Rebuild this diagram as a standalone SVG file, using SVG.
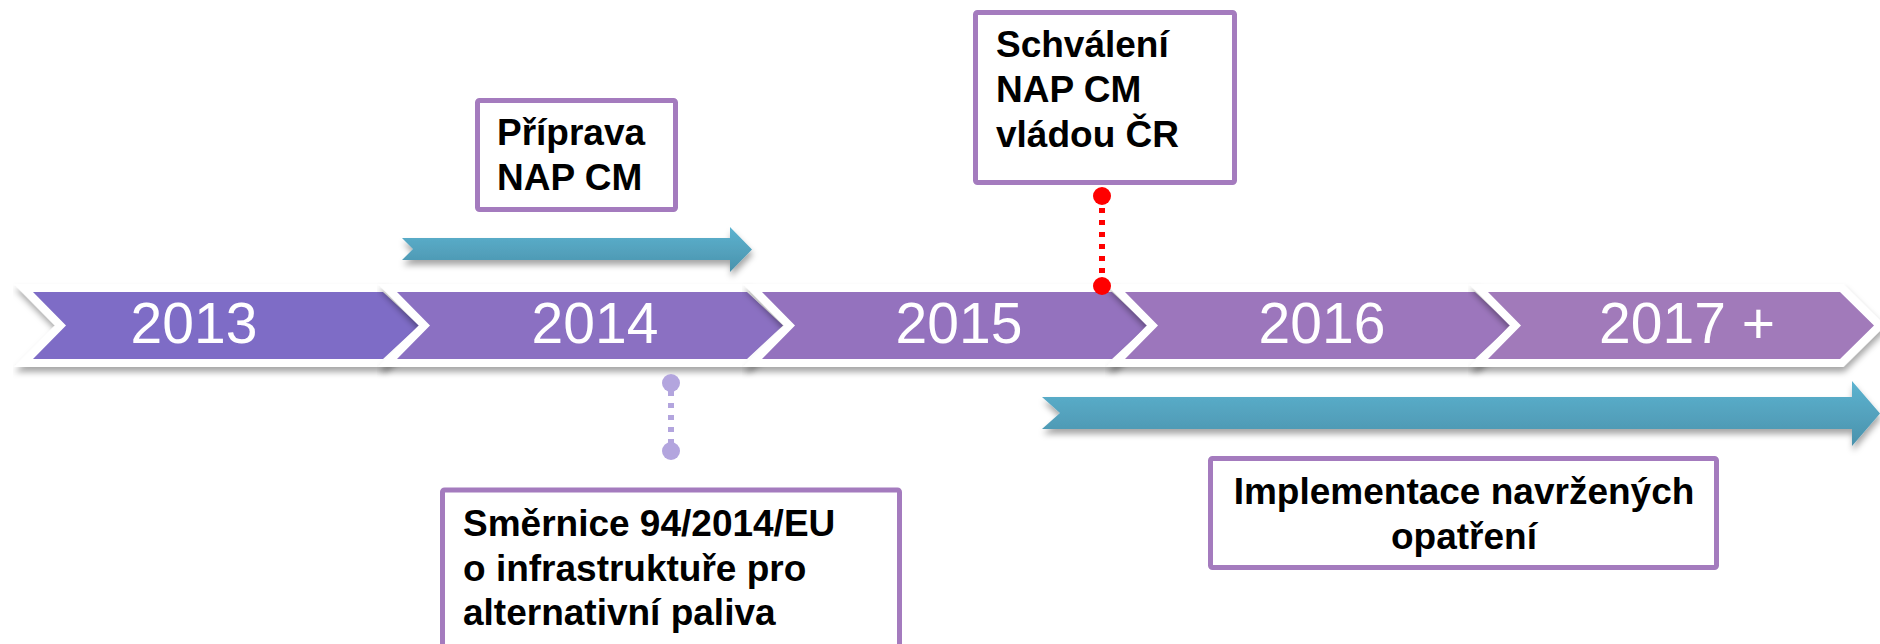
<svg xmlns="http://www.w3.org/2000/svg" width="1880" height="644" viewBox="0 0 1880 644">
  <defs>
    <filter id="shadow" x="-5%" y="-20%" width="110%" height="150%">
      <feDropShadow dx="1" dy="5" stdDeviation="3" flood-color="#000" flood-opacity="0.35"/>
    </filter>
    <linearGradient id="blue" x1="0" y1="0" x2="0" y2="1">
      <stop offset="0" stop-color="#5DB3D0"/>
      <stop offset="1" stop-color="#4A92AC"/>
    </linearGradient>
    <style>
      .seg { stroke: #FFFFFF; stroke-width: 16; stroke-linejoin: miter; paint-order: stroke; filter: url(#shadow); }
      .year { font-family: "Liberation Sans", Arial, sans-serif; font-size: 57px; fill: #FFFFFF; text-anchor: middle; }
      .box { fill: #FFFFFF; stroke: #A47BBE; stroke-width: 5; }
      .lbl { font-family: "Liberation Sans", Arial, sans-serif; font-size: 37px; font-weight: bold; fill: #000000; }
      .arrow { fill: url(#blue); filter: url(#shadow); }
    </style>
  </defs>
  <rect width="1880" height="644" fill="#FFFFFF"/>

  <g id="timeline">
    <g id="y2013">
      <polygon class="seg" fill="#7E6CC6" points="33,292 383,292 419,325.5 383,359 33,359 66,325.5"/>
      <text class="year" x="194" y="343">2013</text>
    </g>
    <g id="y2014">
      <polygon class="seg" fill="#8B70C2" points="397,292 747,292 783,325.5 747,359 397,359 430,325.5"/>
      <text class="year" x="595" y="343">2014</text>
    </g>
    <g id="y2015">
      <polygon class="seg" fill="#9472BE" points="762,292 1112,292 1148,325.5 1112,359 762,359 795,325.5"/>
      <text class="year" x="959" y="343">2015</text>
    </g>
    <g id="y2016">
      <polygon class="seg" fill="#9C76BC" points="1125,292 1475,292 1511,325.5 1475,359 1125,359 1158,325.5"/>
      <text class="year" x="1322" y="343">2016</text>
    </g>
    <g id="y2017">
      <polygon class="seg" fill="#A17ABA" points="1488,292 1840,292 1874,325.5 1840,359 1488,359 1521,325.5"/>
      <text class="year" x="1687" y="343">2017 +</text>
    </g>
  </g>

  <g id="connectors">
    <path id="arrow-priprava" class="arrow" d="M402,238 L730,238 L730,227 L752,249.5 L730,272 L730,260 L402,260 L413,249 Z"/>
    <path id="arrow-implementace" class="arrow" d="M1042,397 L1852,397 L1852,381 L1880,413.5 L1852,446 L1852,429 L1042,429 L1060,413 Z"/>
    <g id="red-link">
      <line x1="1102" y1="196" x2="1102" y2="286" stroke="#FF0000" stroke-width="6" stroke-dasharray="5 7"/>
      <circle cx="1102" cy="196" r="9" fill="#FF0000"/>
      <circle cx="1102" cy="286" r="9" fill="#FF0000"/>
    </g>
    <g id="lavender-link">
      <line x1="671" y1="383" x2="671" y2="451" stroke="#B3A5DE" stroke-width="6" stroke-dasharray="5 7" stroke-dashoffset="-8"/>
      <circle cx="671" cy="383" r="9" fill="#B3A5DE"/>
      <circle cx="671" cy="451" r="9" fill="#B3A5DE"/>
    </g>
  </g>

  <g id="box-priprava">
    <rect class="box" x="477.5" y="100.5" width="198" height="109" rx="2"/>
    <text class="lbl" x="497" y="145">Příprava</text>
    <text class="lbl" x="497" y="190">NAP CM</text>
  </g>

  <g id="box-schvaleni">
    <rect class="box" x="975.5" y="12.5" width="259" height="170" rx="2"/>
    <text class="lbl" x="996" y="57">Schválení</text>
    <text class="lbl" x="996" y="102">NAP CM</text>
    <text class="lbl" x="996" y="147">vládou ČR</text>
  </g>

  <g id="box-smernice">
    <rect class="box" x="442.5" y="490" width="457" height="180" rx="2"/>
    <text class="lbl" x="463" y="536">Směrnice 94/2014/EU</text>
    <text class="lbl" x="463" y="581">o infrastruktuře pro</text>
    <text class="lbl" x="463" y="625">alternativní paliva</text>
  </g>

  <g id="box-implementace">
    <rect class="box" x="1210.5" y="458.5" width="506" height="109" rx="2"/>
    <text class="lbl" x="1464" y="504" text-anchor="middle">Implementace navržených</text>
    <text class="lbl" x="1464" y="549" text-anchor="middle">opatření</text>
  </g>
</svg>
